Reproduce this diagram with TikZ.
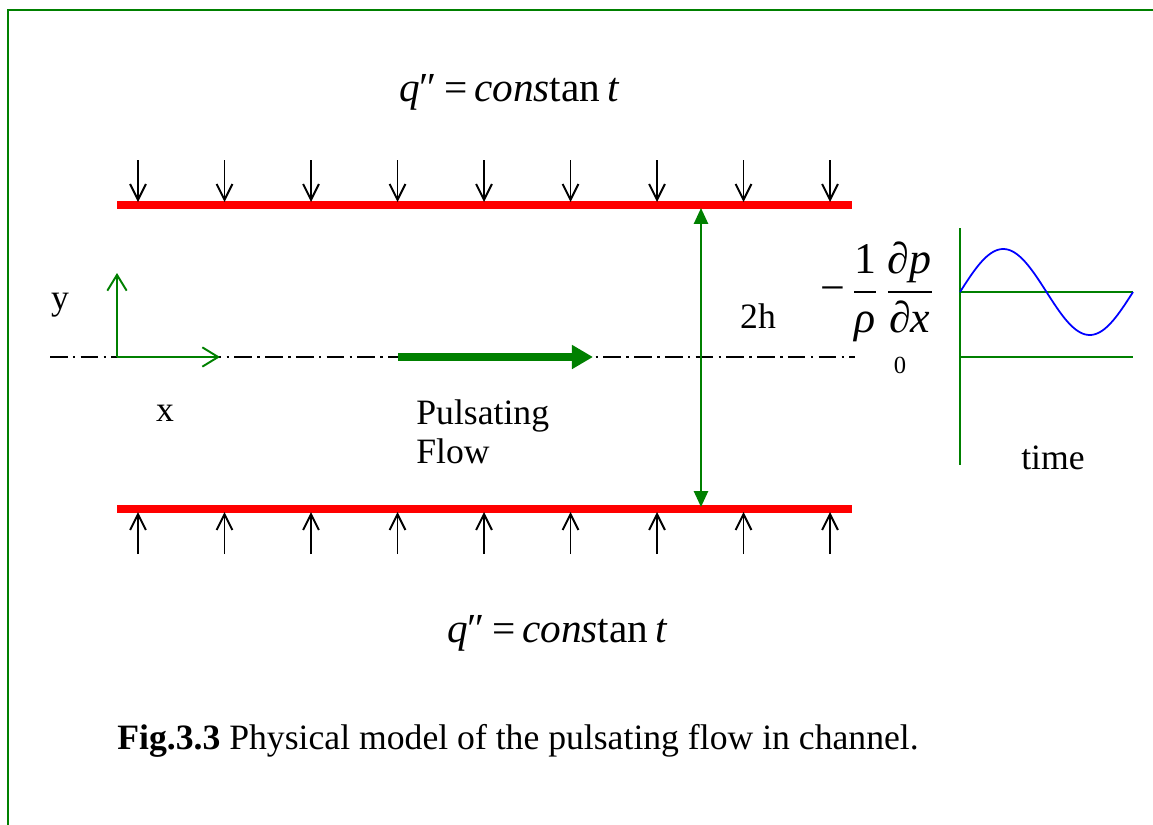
\documentclass[tikz,border=0pt]{standalone}
\usepackage{amsmath}
\usepackage{fontspec}
\setmainfont{Liberation Serif}
\usepackage{tikz}
\usetikzlibrary{arrows.meta, positioning, calc}
\definecolor{dgreen}{RGB}{0,128,0}

\begin{document}
\begin{tikzpicture}[
    x=0.02cm, y=-0.02cm,
    txt/.style={font=\fontsize{20.3}{23}\selectfont, inner sep=0pt},
    eq/.style={font=\fontsize{23.5}{27}\selectfont, inner sep=0pt},
    frame/.style={dgreen, line width=1.3pt},
    wall/.style={red, line width=4pt},
    flux/.style={-{Straight Barb[length=9pt,width=9pt]}, line width=1.1pt},
    axis/.style={-{Straight Barb[length=9pt,width=11pt]}, dgreen, line width=1.1pt},
    centre/.style={line width=0.8pt, dash pattern=on 10pt off 3pt on 1.5pt off 3pt},
    flow/.style={-{Triangle[length=12pt,width=13pt]}, dgreen, line width=4.5pt},
    gap/.style={{Triangle[length=9pt,width=8pt]}-{Triangle[length=9pt,width=8pt]}, dgreen, line width=1.1pt},
    plotaxis/.style={dgreen, line width=1.1pt},
    wave/.style={blue, line width=1pt}
]
    \useasboundingbox (0,0) rectangle (1153,825);
    \draw[frame] (1153,10) -- (8,10) -- (8,825);

    % heat flux on the walls
    \node (qtop) [eq] at (509,92) {{\itshape q}″\,=\,{\itshape cons}tan\,{\itshape t}};
    \node (qbot) [eq] at (557,633) {{\itshape q}″\,=\,{\itshape cons}tan\,{\itshape t}};

    \coordinate (wtl) at (117,205);
    \coordinate (wtr) at (852,205);
    \coordinate (wbl) at (117,509);
    \coordinate (wbr) at (852,509);
    \draw[wall] (wtl) -- (wtr);
    \draw[wall] (wbl) -- (wbr);

    \foreach \i in {0,...,8} {
        \coordinate (ft\i) at ({138+86.5*\i},160);
        \coordinate (fb\i) at ({138+86.5*\i},554);
        \draw[flux] (ft\i) -- ($(ft\i |- wtl)+(0,-3)$);
        \draw[flux] (fb\i) -- ($(fb\i |- wbl)+(0,3)$);
    }

    % centre line and axes
    \coordinate (cl) at (50,357);
    \coordinate (cr) at (855,357);
    \draw[centre] (cl) -- (cr);

    \coordinate (o) at (117,357);
    \coordinate (yend) at (117,273);
    \coordinate (xend) at (220,357);
    \draw[axis] (o) -- (yend);
    \draw[axis] (o) -- (xend);
    \node (ylab) [txt] at (60,305) {y};
    \node (xlab) [txt] at (165,413) {x};

    \coordinate (fs) at (398,357);
    \coordinate (fe) at (593,357);
    \draw[flow] (fs) -- (fe);
    \node (flowlab) [txt, anchor=west, align=left] at (416,432) {Pulsating\\[-1pt]Flow};

    \coordinate (gt) at (701,208);
    \coordinate (gb) at (701,507);
    \draw[gap] (gt) -- (gb);
    \node (hlab) [txt] at (758,316) {2h};

    % pressure gradient against time
    \node (grad) [font=\fontsize{25}{28}\selectfont, inner sep=0pt] at (877,292)
        {−\,$\dfrac{\hbox{1}}{\hbox{\itshape ρ}}\,\dfrac{\hbox{\itshape ∂p}}{\hbox{\itshape ∂x}}$};
    \node (zero) [font=\fontsize{14}{16}\selectfont, inner sep=0pt] at (900,365) {0};

    \coordinate (pt) at (960,228);
    \coordinate (pb) at (960,465);
    \coordinate (m0) at (960,292);
    \coordinate (m1) at (1133,292);
    \coordinate (z0) at (960,357);
    \coordinate (z1) at (1133,357);
    \draw[plotaxis] (pt) -- (pb);
    \draw[plotaxis] (m0) -- (m1);
    \draw[plotaxis] (z0) -- (z1);
    \draw[wave, domain=0:173, samples=80, smooth] plot ({960+\x},{292-43*sin(\x/173*360)});
    \node (tlab) [txt] at (1053,458) {time};

    \node (caption) [txt, anchor=west] at (117,741) {\textbf{Fig.3.3} Physical model of the pulsating flow in channel.};
\end{tikzpicture}
\end{document}
